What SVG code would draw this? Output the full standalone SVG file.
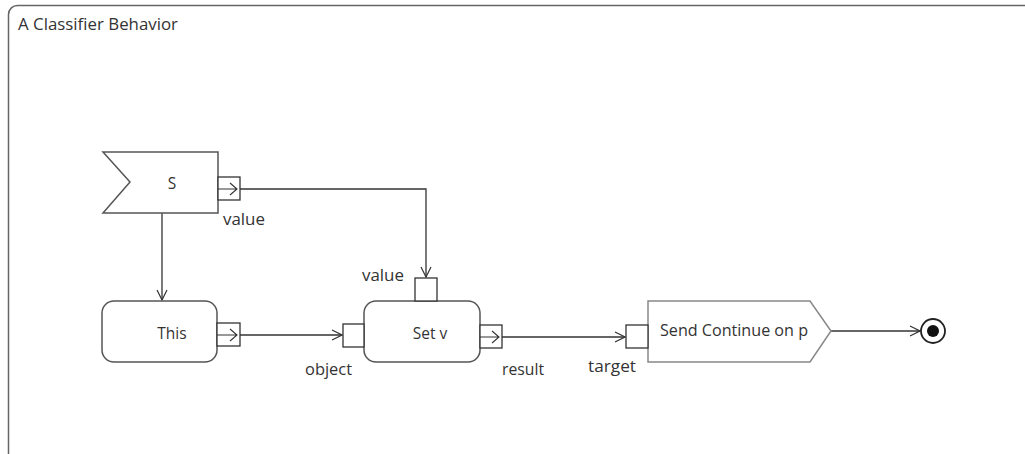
<svg xmlns="http://www.w3.org/2000/svg" width="1025" height="454" viewBox="0 0 1025 454">
<defs>
<marker id="open" viewBox="0 0 12 12" refX="11" refY="6" markerWidth="12" markerHeight="12" markerUnits="userSpaceOnUse" orient="auto">
<path d="M1,1 L11,6 L1,11" fill="none" stroke="#333" stroke-width="1.2"/>
</marker>
</defs>
<style>
text{font-family:"Open Sans","DejaVu Sans",sans-serif;font-size:15.5px;fill:#333}
.node{fill:#fff;stroke:#555;stroke-width:1.5}
.pin{fill:#fff;stroke:#333;stroke-width:1.3}
.edge{fill:none;stroke:#333;stroke-width:1.3}
.pinarrow{fill:none;stroke:#333;stroke-width:1.1}
</style>
<rect width="1025" height="454" fill="#fff"/>
<g id="frame">
<rect x="8.5" y="5.5" width="1040" height="470" rx="9" fill="none" stroke="#666" stroke-width="1.5"/>
<text x="18" y="30" textLength="160" lengthAdjust="spacingAndGlyphs">A Classifier Behavior</text>
</g>
<g id="connectors">
<path class="edge" d="M240,189 H426 V277" marker-end="url(#open)"/>
<path class="edge" d="M162,213 V300" marker-end="url(#open)"/>
<path class="edge" d="M240,335 H342" marker-end="url(#open)"/>
<path class="edge" d="M502,337 H625" marker-end="url(#open)"/>
<path class="edge" d="M831,331 H920" marker-end="url(#open)"/>
</g>
<g id="S">
<path class="node" d="M103,152 H218 V213 H103 L130,182 Z"/>
<text x="172" y="189" text-anchor="middle">S</text>
<rect class="pin" x="218" y="177" width="22" height="23"/>
<path class="pinarrow" d="M218,189 H237 M230,183 L237,189 L230,195"/>
<text x="223" y="225" textLength="42" lengthAdjust="spacingAndGlyphs">value</text>
</g>
<g id="This">
<rect class="node" x="102" y="301" width="115" height="61" rx="12"/>
<text x="172" y="339" text-anchor="middle">This</text>
<rect class="pin" x="217" y="323" width="23" height="23"/>
<path class="pinarrow" d="M217,335 H237 M230,329 L237,335 L230,341"/>
</g>
<g id="SetV">
<rect class="node" x="364" y="301" width="116" height="61" rx="12"/>
<text x="430" y="339" text-anchor="middle">Set v</text>
<rect class="pin" x="343" y="324" width="21" height="23"/>
<text x="305" y="375" textLength="47" lengthAdjust="spacingAndGlyphs">object</text>
<rect class="pin" x="415" y="278" width="22" height="23"/>
<text x="362" y="281" textLength="42" lengthAdjust="spacingAndGlyphs">value</text>
<rect class="pin" x="480" y="325" width="22" height="23"/>
<path class="pinarrow" d="M480,337 H499 M492,331 L499,337 L492,343"/>
<text x="502" y="375" textLength="42" lengthAdjust="spacingAndGlyphs">result</text>
</g>
<g id="Send">
<path d="M648,301 H810 L831,331 L810,362 H648 Z" fill="#fff" stroke="#888" stroke-width="1.5"/>
<text x="660" y="336" textLength="148" lengthAdjust="spacingAndGlyphs">Send Continue on p</text>
<rect class="pin" x="626" y="325" width="22" height="23"/>
<text x="588" y="372" textLength="48" lengthAdjust="spacingAndGlyphs">target</text>
</g>
<g id="final">
<circle cx="933" cy="331" r="12" fill="#fff" stroke="#222" stroke-width="1.8"/>
<circle cx="933" cy="331" r="6" fill="#111"/>
</g>
</svg>
